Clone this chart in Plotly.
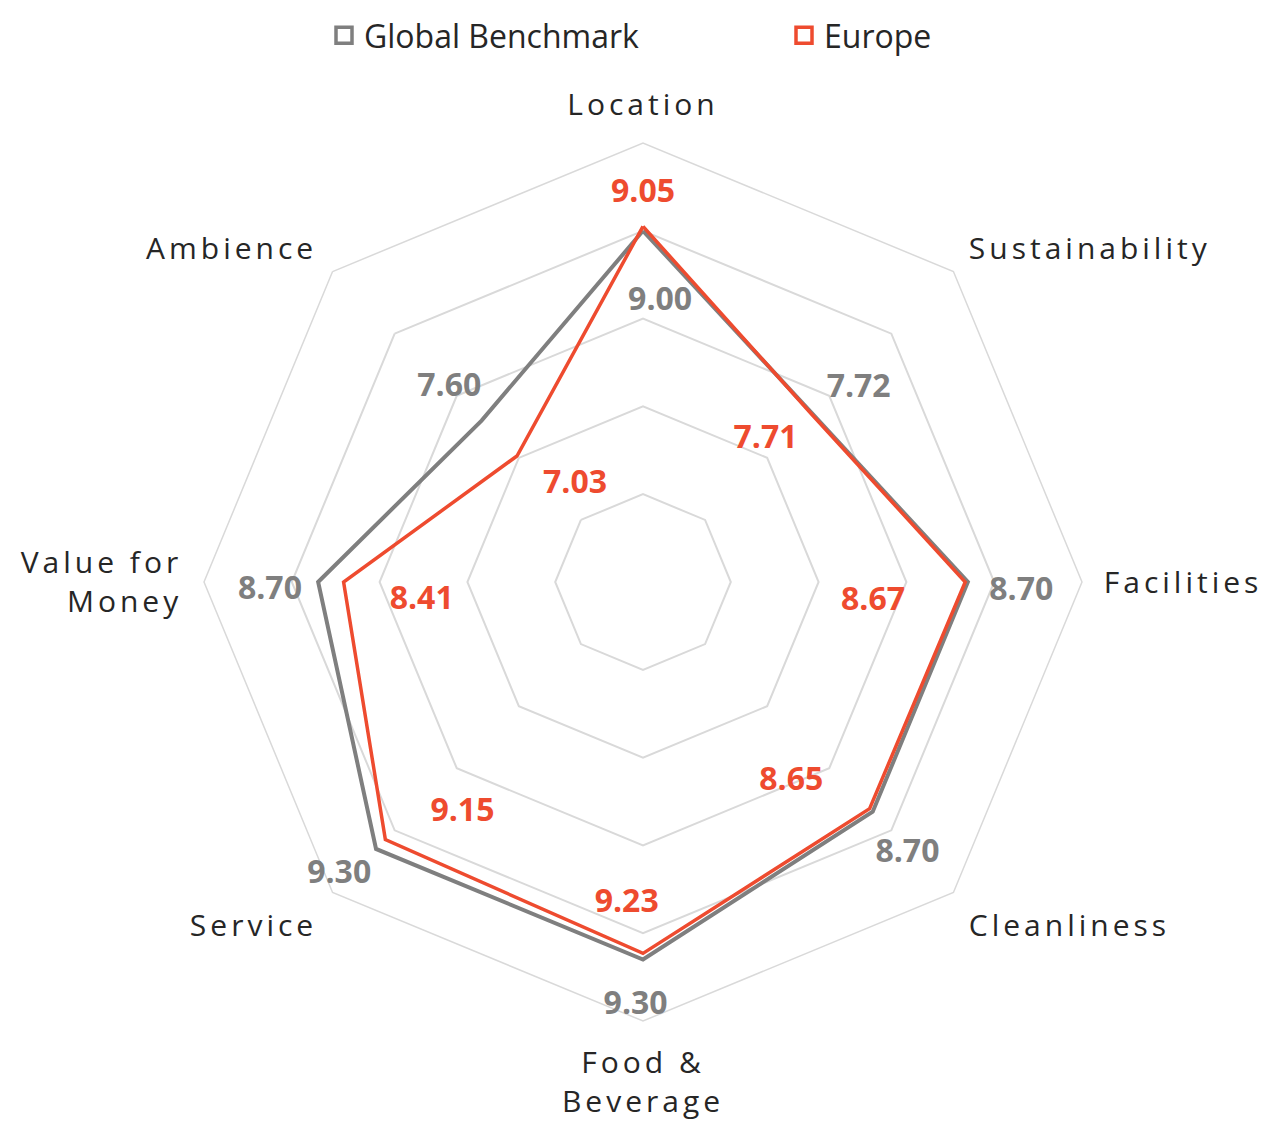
import plotly.graph_objects as go

CATEGORIES = ["Location", "Sustainability", "Facilities", "Cleanliness",
              "Food & Beverage", "Service", "Value for Money", "Ambience"]
GLOBAL_BENCHMARK = [9.00, 7.72, 8.70, 8.70, 9.30, 9.30, 8.70, 7.60]
EUROPE = [9.05, 7.71, 8.67, 8.65, 9.23, 9.15, 8.41, 7.03]
RADIAL_RANGE = [5, 10]

GREY = "#7f7f7f"
RED = "#ee4b2f"
GRID = "#d9d9d9"
TEXT = "#262626"
FONT = "Open Sans"

# two-line axis labels as in the original
WRAPPED = {"Food & Beverage": "Food &<br>Beverage", "Value for Money": "Value for<br>Money"}

# nudges (radial units, degrees) for the value tags, mimicking the original placement
GLOBAL_NUDGE = [(-0.81, 3.5), (0.58, 3.1), (0.61, 1.5), (0.62, 0.8),
                (0.53, 1.0), (0.51, 1.0), (0.55, -1.4), (0.52, 0.0)]
EUROPE_NUDGE = [(0.37, 0.0), (-0.57, -4.3), (-1.04, 5.0), (-0.81, 8.5),
                (-0.56, 2.9), (-0.81, -7.0), (-0.88, -5.0), (-0.68, 10.0)]


def closed(values):
    return list(values) + [values[0]]


def value_tags(values, nudges, color):
    step = 360 / len(values)
    return go.Scatterpolar(
        r=[v + dr for v, (dr, _) in zip(values, nudges)],
        theta=[i * step + dt for i, (_, dt) in enumerate(nudges)],
        mode="text",
        text=[f"{v:.2f}" for v in values],
        textfont=dict(family=FONT, size=32, color=color, weight="bold"),
        subplot="polar2",
        showlegend=False,
        hoverinfo="skip",
    )


fig = go.Figure()

for name, values, color, width in [("Global Benchmark", GLOBAL_BENCHMARK, GREY, 4),
                                   ("Europe", EUROPE, RED, 3.5)]:
    fig.add_trace(go.Scatterpolar(
        r=closed(values),
        theta=closed(CATEGORIES),
        mode="lines",
        line=dict(color=color, width=width),
        name=name,
        showlegend=False,
        subplot="polar",
    ))

# legend-only entries with hollow square keys
for name, color, legend in [("Global Benchmark", GREY, "legend"), ("Europe", RED, "legend2")]:
    fig.add_trace(go.Scatterpolar(
        r=[None], theta=[None],
        mode="markers",
        name=name,
        marker=dict(symbol="square-open", size=16, color=color, line=dict(width=3.5, color=color)),
        subplot="polar",
        legend=legend,
    ))

fig.add_trace(value_tags(GLOBAL_BENCHMARK, GLOBAL_NUDGE, GREY))
fig.add_trace(value_tags(EUROPE, EUROPE_NUDGE, RED))

domain = dict(x=[196 / 1288, 1074 / 1288], y=[114 / 1127, 992 / 1127])

fig.update_layout(
    width=1288,
    height=1127,
    margin=dict(l=0, r=0, t=0, b=0, autoexpand=False),
    paper_bgcolor="white",
    plot_bgcolor="white",
    font=dict(family=FONT, color=TEXT),
    polar=dict(
        domain=domain,
        bgcolor="rgba(0,0,0,0)",
        gridshape="linear",
        radialaxis=dict(range=RADIAL_RANGE, dtick=1, tick0=5, showticklabels=False,
                        ticks="", showline=False, gridcolor=GRID, gridwidth=1.5),
        angularaxis=dict(rotation=90, direction="clockwise", showgrid=False,
                         showline=True, linecolor=GRID, linewidth=1.5,
                         ticks="outside", ticklen=15, tickcolor="rgba(0,0,0,0)",
                         tickmode="array", tickvals=CATEGORIES,
                         ticktext=[WRAPPED.get(c, c) for c in CATEGORIES],
                         tickfont=dict(family=FONT, size=30, color=TEXT)),
    ),
    polar2=dict(
        domain=domain,
        bgcolor="rgba(0,0,0,0)",
        radialaxis=dict(range=RADIAL_RANGE, visible=False),
        angularaxis=dict(rotation=90, direction="clockwise", visible=False),
    ),
    legend=dict(x=316 / 1288, y=1, xanchor="left", yanchor="top", orientation="h",
                font=dict(family=FONT, size=32, color=TEXT), bgcolor="rgba(0,0,0,0)"),
    legend2=dict(x=776 / 1288, y=1, xanchor="left", yanchor="top", orientation="h",
                 font=dict(family=FONT, size=32, color=TEXT), bgcolor="rgba(0,0,0,0)"),
)

spacing = ("document.querySelectorAll('g.angular-axis text, .angularaxistick text')"
           ".forEach(function(t){t.style.letterSpacing='4px';});")

fig.write_html("out.html", post_script=spacing)
